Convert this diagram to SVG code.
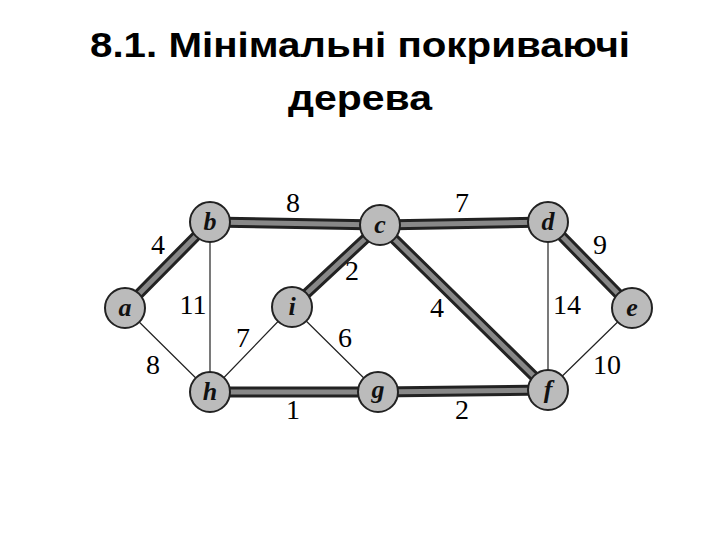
<svg xmlns="http://www.w3.org/2000/svg" width="720" height="540" viewBox="0 0 720 540">
<style>
.t{font-family:"Liberation Sans",Arial,sans-serif;font-size:35px;font-weight:bold;fill:#000;text-anchor:middle}
.w{font-family:"Liberation Serif","Times New Roman",serif;font-size:28px;fill:#000;text-anchor:middle}
.n{font-family:"Liberation Serif","Times New Roman",serif;font-size:26px;font-style:italic;font-weight:bold;fill:#111;text-anchor:middle}
.thin{stroke:#222;stroke-width:1.2;fill:none}
.thk{stroke:#222;stroke-width:11;fill:none}
.thki{stroke:#888;stroke-width:5;fill:none}
circle{fill:#bbb;stroke:#222;stroke-width:2}
</style>
<rect width="720" height="540" fill="#fff"/>
<text class="t" x="360" y="57" textLength="540" lengthAdjust="spacingAndGlyphs">8.1. Мінімальні покриваючі</text>
<text class="t" x="360" y="110" textLength="144" lengthAdjust="spacingAndGlyphs">дерева</text>
<g id="edges">
<path class="thin" d="M210,222 L210,392 M125,308 L210,392 M292,307 L210,392 M292,307 L378,392 M548,222 L548,390 M632,308 L548,390"/>
<path class="thk" d="M125,308 L210,222 M210,222 L380,225 M380,225 L292,307 M380,225 L548,222 M548,222 L632,308 M380,225 L548,390 M210,392 L378,392 M378,392 L548,390"/>
<path class="thki" d="M125,308 L210,222 M210,222 L380,225 M380,225 L292,307 M380,225 L548,222 M548,222 L632,308 M380,225 L548,390 M210,392 L378,392 M378,392 L548,390"/>
</g>
<g id="weights">
<text class="w" x="293" y="212">8</text>
<text class="w" x="462" y="212">7</text>
<text class="w" x="158" y="254">4</text>
<text class="w" x="600" y="254">9</text>
<text class="w" x="352" y="280">2</text>
<text class="w" x="193" y="314">11</text>
<text class="w" x="437" y="317">4</text>
<text class="w" x="567" y="314">14</text>
<text class="w" x="243" y="347">7</text>
<text class="w" x="345" y="347">6</text>
<text class="w" x="153" y="374">8</text>
<text class="w" x="607" y="374">10</text>
<text class="w" x="293" y="419">1</text>
<text class="w" x="462" y="419">2</text>
</g>
<g id="a"><circle cx="125" cy="308" r="20"/><text class="n" x="125" y="316">a</text></g>
<g id="b"><circle cx="210" cy="222" r="20"/><text class="n" x="210" y="230">b</text></g>
<g id="c"><circle cx="380" cy="225" r="20"/><text class="n" x="380" y="233">c</text></g>
<g id="d"><circle cx="548" cy="222" r="20"/><text class="n" x="548" y="230">d</text></g>
<g id="e"><circle cx="632" cy="308" r="20"/><text class="n" x="632" y="316">e</text></g>
<g id="f"><circle cx="548" cy="390" r="20"/><text class="n" x="548" y="398">f</text></g>
<g id="g"><circle cx="378" cy="392" r="20"/><text class="n" x="378" y="398">g</text></g>
<g id="h"><circle cx="210" cy="392" r="20"/><text class="n" x="210" y="400">h</text></g>
<g id="i"><circle cx="292" cy="307" r="20"/><text class="n" x="292" y="315">i</text></g>
</svg>
